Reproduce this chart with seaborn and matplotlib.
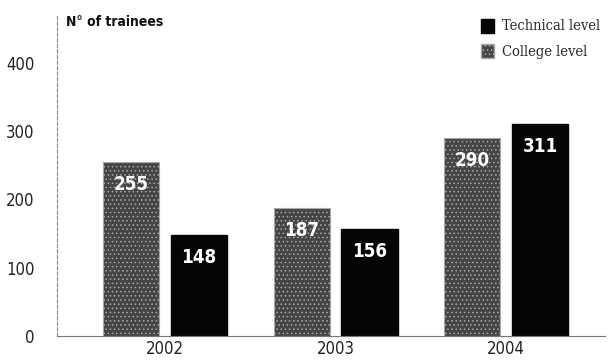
import pandas as pd
import numpy as np
import matplotlib
matplotlib.use("Agg")
import matplotlib.pyplot as plt
import seaborn as sns
from matplotlib.patches import Patch

years = ["2002", "2003", "2004"]
college = [255, 187, 290]
technical = [148, 156, 311]
levels = ["College level", "Technical level"]

df = pd.DataFrame({
    "year": years * 2,
    "level": [levels[0]] * 3 + [levels[1]] * 3,
    "trainees": college + technical,
})

sns.set_theme(style="white")
plt.rcParams["font.family"] = ["DejaVu Sans"]
plt.rcParams["hatch.linewidth"] = 0.6

fig = plt.figure(figsize=(6.13, 3.60), dpi=100)
ax = fig.add_axes([0.093, 0.067, 0.894, 0.891])

sns.barplot(data=df, x="year", y="trainees", hue="level", hue_order=levels,
            palette={levels[0]: "#454545", levels[1]: "#050505"},
            width=0.794, gap=0.17, legend=False, ax=ax, saturation=1)

# stipple texture on the college bars
for bar in ax.containers[0]:
    bar.set_hatch("....")
    bar.set_edgecolor("#a8a8a8")
    bar.set_linewidth(0.8)
for bar in ax.containers[1]:
    bar.set_edgecolor("#050505")

# value labels inside the bars
for cont in ax.containers:
    for bar in cont:
        h = bar.get_height()
        ax.text(bar.get_x() + bar.get_width() / 2, h - 33, f"{h:.0f}",
                ha="center", va="center", color="white", fontsize=13.5,
                fontstretch="condensed", fontweight="bold")

ax.set_xlim(-0.635, 2.58)
ax.set_ylim(0, 470)
ax.set_yticks([0, 100, 200, 300, 400])
ax.set_xlabel("")
ax.set_ylabel("")
ax.tick_params(axis="both", length=0, labelsize=12, colors="#222222")
ax.tick_params(axis="y", pad=16)
ax.tick_params(axis="x", pad=3)
for lbl in ax.get_xticklabels() + ax.get_yticklabels():
    lbl.set_fontstretch("condensed")

for s in ["top", "right"]:
    ax.spines[s].set_visible(False)
ax.spines["left"].set_color("#888888")
ax.spines["left"].set_linewidth(0.8)
ax.spines["left"].set_linestyle((0, (3, 2)))
ax.spines["bottom"].set_color("#777777")
ax.spines["bottom"].set_linewidth(0.8)

fig.text(0.108, 0.94, "N° of trainees", fontsize=10, fontweight="bold",
         fontstretch="condensed", color="#111111", va="center")

handles = [Patch(facecolor="#050505", edgecolor="#050505", label="Technical level"),
           Patch(facecolor="#454545", edgecolor="#a8a8a8", hatch="....", label="College level")]
fig.legend(handles=handles, loc="upper right", bbox_to_anchor=(1.0, 0.985),
           frameon=False, handlelength=0.9, handleheight=1.1, handletextpad=0.5,
           labelspacing=0.7, prop={"family": "DejaVu Serif", "size": 10.5, "stretch": "condensed"})

fig.savefig("out.png", dpi=100)
